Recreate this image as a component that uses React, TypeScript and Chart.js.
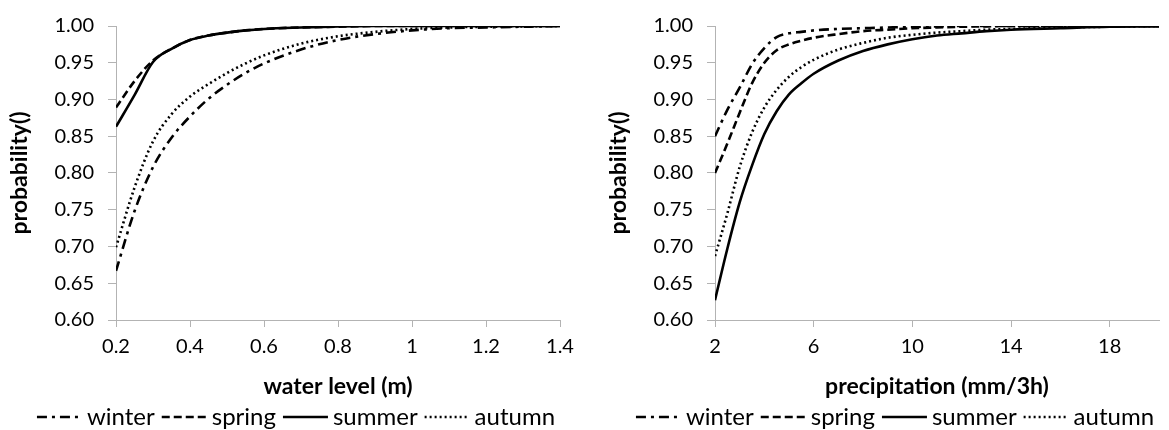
import React, { useEffect, useRef } from 'react';
import { Chart, registerables } from 'chart.js';

Chart.register(...registerables);

// ---------- data ----------
const SERIES_NAMES = ['winter', 'spring', 'summer', 'autumn'];

// left chart: water level (m)
const WL_X = [0.2, 0.25, 0.3, 0.35, 0.4, 0.45, 0.5, 0.55, 0.6, 0.7, 0.8, 0.9, 1.0, 1.1, 1.2, 1.3, 1.4];
const WL_WINTER = [0.667, 0.748, 0.808, 0.848, 0.877, 0.901, 0.92, 0.936, 0.949, 0.968, 0.981, 0.989, 0.994, 0.997, 0.998, 0.999, 1.0];
const WL_SPRING = [0.889, 0.925, 0.953, 0.969, 0.981, 0.987, 0.991, 0.994, 0.996, 0.998, 0.999, 1.0, 1.0, 1.0, 1.0, 1.0, 1.0];
const WL_SUMMER = [0.863, 0.906, 0.951, 0.969, 0.981, 0.987, 0.991, 0.994, 0.996, 0.998, 0.9995, 1.0, 1.0, 1.0, 1.0, 1.0, 1.0];
const WL_AUTUMN = [0.699, 0.78, 0.843, 0.88, 0.904, 0.921, 0.936, 0.949, 0.96, 0.976, 0.986, 0.992, 0.996, 0.998, 0.999, 0.9995, 1.0];
const WL_X_TICKS = [0.2, 0.4, 0.6, 0.8, 1.0, 1.2, 1.4];
const WL_X_LABELS = ['0.2', '0.4', '0.6', '0.8', '1', '1.2', '1.4'];

// right chart: precipitation (mm/3h)
const PR_X = [2, 2.5, 3, 3.5, 4, 4.5, 5, 5.5, 6, 7, 8, 9, 10, 11, 12, 13, 14, 16, 18, 20];
const PR_WINTER = [0.85, 0.886, 0.916, 0.948, 0.97, 0.985, 0.99, 0.992, 0.994, 0.996, 0.997, 0.998, 0.999, 0.9995, 1.0, 1.0, 1.0, 1.0, 1.0, 1.0];
const PR_SPRING = [0.8, 0.84, 0.882, 0.922, 0.95, 0.967, 0.975, 0.98, 0.984, 0.989, 0.993, 0.995, 0.997, 0.998, 0.999, 0.9995, 1.0, 1.0, 1.0, 1.0];
const PR_SUMMER = [0.627, 0.697, 0.76, 0.81, 0.853, 0.884, 0.907, 0.922, 0.935, 0.953, 0.966, 0.975, 0.982, 0.987, 0.99, 0.993, 0.995, 0.997, 0.999, 0.9995];
const PR_AUTUMN = [0.687, 0.745, 0.808, 0.855, 0.889, 0.913, 0.931, 0.944, 0.954, 0.968, 0.977, 0.984, 0.988, 0.991, 0.993, 0.995, 0.996, 0.998, 0.999, 1.0];
const PR_X_TICKS = [2, 6, 10, 14, 18];
const PR_X_LABELS = ['2', '6', '10', '14', '18'];

const Y_TICKS = [0.6, 0.65, 0.7, 0.75, 0.8, 0.85, 0.9, 0.95, 1.0];
const Y_LABELS = ['0.60', '0.65', '0.70', '0.75', '0.80', '0.85', '0.90', '0.95', '1.00'];

// ---------- styles ----------
const FONT_FAMILY = 'Lato, "Noto Sans", sans-serif';
const TICK_SIZE = 20;
const TITLE_SIZE = 23;
const LEGEND_SIZE = 24;
const AXIS_COLOR = '#b3b3b3';
const LINE_STYLES = [
  { borderDash: [10, 5, 3, 5], borderWidth: 2.6 },
  { borderDash: [8, 4], borderWidth: 2.6 },
  { borderDash: [], borderWidth: 2.6 },
  { borderDash: [2, 3], borderWidth: 2.6 },
];

const lineLegend = {
  id: 'lineLegend',
  afterDraw(chart: any) {
    const ctx = chart.ctx;
    const o = chart.options.plugins.lineLegend || {};
    const sample = 45, gapText = 5, gapItem = 7;
    ctx.save();
    ctx.font = `${o.size || 20}px ${FONT_FAMILY}`;
    const items = chart.data.datasets.map((ds: any) => ({ ds, w: ctx.measureText(ds.label).width }));
    const total = items.reduce((s: number, it: any) => s + sample + gapText + it.w, 0) + gapItem * (items.length - 1);
    let x = chart.width / 2 - total / 2;
    const y = o.y || 417;
    for (const it of items) {
      ctx.beginPath();
      ctx.setLineDash(it.ds.borderDash || []);
      ctx.lineWidth = it.ds.borderWidth;
      ctx.strokeStyle = '#000';
      ctx.moveTo(x, y);
      ctx.lineTo(x + sample, y);
      ctx.stroke();
      ctx.setLineDash([]);
      x += sample + gapText;
      ctx.fillStyle = '#000';
      ctx.textBaseline = 'middle';
      ctx.textAlign = 'left';
      ctx.fillText(it.ds.label, x, y);
      x += it.w + gapItem;
    }
    ctx.restore();
  },
};

function makeConfig(xs: number[], series: number[][], xMin: number, xMax: number, xTicks: number[], xLabels: string[], xTitle: string) {
  const datasets = series.map((vals, i) => ({
    label: SERIES_NAMES[i],
    data: xs.map((x, j) => ({ x, y: vals[j] })),
    borderColor: '#000',
    backgroundColor: '#000',
    borderWidth: LINE_STYLES[i].borderWidth,
    borderDash: LINE_STYLES[i].borderDash,
    pointRadius: 0,
    fill: false,
    cubicInterpolationMode: 'monotone' as const,
  }));
  return {
    type: 'line' as const,
    data: { datasets },
    plugins: [lineLegend],
    options: {
      responsive: false,
      animation: false as const,
      layout: { padding: { top: 20, right: 32, bottom: 30, left: 0 } },
      plugins: {
        legend: { display: false },
        tooltip: { enabled: false },
        lineLegend: { y: 417, size: LEGEND_SIZE },
      },
      scales: {
        x: {
          type: 'linear' as const,
          min: xMin,
          max: xMax,
          afterBuildTicks: (s: any) => { s.ticks = xTicks.map((v) => ({ value: v })); },
          afterFit: (s: any) => { s.height = 80; },
          ticks: {
            callback: (_v: any, i: number) => xLabels[i],
            font: { family: FONT_FAMILY, size: TICK_SIZE },
            color: '#000',
            padding: 8,
            maxRotation: 0,
            autoSkip: false,
          },
          grid: { drawOnChartArea: false, drawTicks: true, tickLength: 7, color: AXIS_COLOR },
          border: { color: AXIS_COLOR, width: 1 },
          title: {
            display: true,
            text: xTitle,
            font: { family: FONT_FAMILY, size: TITLE_SIZE, weight: 'bold' as const },
            color: '#000',
            padding: { top: 0, bottom: 0 },
          },
        },
        y: {
          type: 'linear' as const,
          min: 0.6,
          max: 1.0,
          afterBuildTicks: (s: any) => { s.ticks = Y_TICKS.map((v) => ({ value: v })); },
          afterFit: (s: any) => { s.width = 116; },
          ticks: {
            callback: (_v: any, i: number) => Y_LABELS[i],
            font: { family: FONT_FAMILY, size: TICK_SIZE },
            color: '#000',
            padding: 14,
          },
          grid: { drawOnChartArea: false, drawTicks: true, tickLength: 8, color: AXIS_COLOR },
          border: { color: AXIS_COLOR, width: 1 },
          title: {
            display: true,
            text: 'probability()',
            font: { family: FONT_FAMILY, size: TITLE_SIZE, weight: 'bold' as const },
            color: '#000',
            padding: { top: 6, bottom: 0 },
          },
        },
      },
    },
  };
}

function ChartBox(props: { cfg: any; left: number }) {
  const ref = useRef<HTMLCanvasElement | null>(null);
  useEffect(() => {
    if (!ref.current) return;
    const chart = new Chart(ref.current, props.cfg);
    return () => chart.destroy();
  }, []);
  return (
    <div style={{ position: 'absolute', left: props.left, top: 0, width: 592, height: 430 }}>
      <canvas ref={ref} width={592} height={430} style={{ display: 'block' }} />
    </div>
  );
}

export default function App() {
  const leftCfg = makeConfig(WL_X, [WL_WINTER, WL_SPRING, WL_SUMMER, WL_AUTUMN], 0.2, 1.4, WL_X_TICKS, WL_X_LABELS, 'water level (m)');
  const rightCfg = makeConfig(PR_X, [PR_WINTER, PR_SPRING, PR_SUMMER, PR_AUTUMN], 2, 20, PR_X_TICKS, PR_X_LABELS, 'precipitation (mm/3h)');
  return (
    <div style={{ position: 'fixed', left: 0, top: 0, width: 1169, height: 430, overflow: 'hidden', background: '#fff' }}>
      <ChartBox cfg={leftCfg} left={0} />
      <ChartBox cfg={rightCfg} left={599} />
    </div>
  );
}
